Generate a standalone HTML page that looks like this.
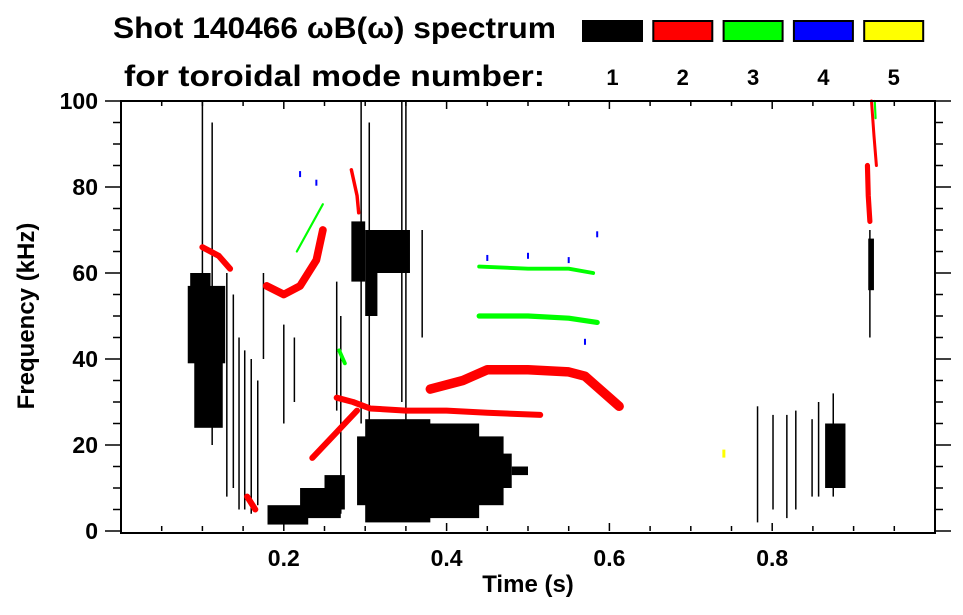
<!DOCTYPE html>
<html><head><meta charset="utf-8">
<style>
html,body{margin:0;padding:0;background:#fff;}
svg{display:block;font-family:"Liberation Sans",sans-serif;font-weight:bold;}
</style></head>
<body>
<svg id="chart" width="963" height="615" viewBox="0 0 963 615">
<g id="marks"></g>
<g id="axes"></g>
<g id="legend"></g>
<text x="113" y="38" font-size="30" textLength="443" lengthAdjust="spacingAndGlyphs">Shot 140466 ωB(ω) spectrum</text>
<text x="124" y="86" font-size="30" textLength="421" lengthAdjust="spacingAndGlyphs">for toroidal mode number:</text>
<text x="528" y="592" font-size="24" text-anchor="middle">Time (s)</text>
<text transform="translate(34,316) rotate(-90)" font-size="24" text-anchor="middle">Frequency (kHz)</text>
</svg>
<script>
// ---- data (time s, frequency kHz) ----
const modeColors = ["#000000","#ff0000","#00ff00","#0000ff","#ffff00"];
const modeLabels = ["1","2","3","4","5"];
const xTicks = [0.2,0.4,0.6,0.8];
const yTicks = [0,20,40,60,80,100];
// black (n=1) regions: [t0, t1, fLow, fHigh]
const blackBlobs = [
 [0.082,0.128,39,57],[0.09,0.125,24,40],[0.085,0.11,45,60],
 [0.18,0.23,1.5,6],[0.22,0.27,3,10],[0.25,0.275,5,13],
 [0.29,0.47,6,22],[0.33,0.44,3,25],[0.30,0.38,2,26],[0.44,0.48,10,18],[0.48,0.50,13,15],
 [0.283,0.30,58,72],[0.30,0.355,60,70],[0.30,0.315,50,60],
 [0.865,0.89,10,25],[0.918,0.925,56,68]
];
// black streaks: [t, fLow, fHigh]
const blackStreaks = [
 [0.10,30,100],[0.112,20,95],[0.13,8,60],[0.138,10,55],[0.145,5,45],[0.152,5,42],[0.16,4,40],[0.168,6,35],
 [0.175,40,60],[0.2,25,48],[0.213,30,45],[0.265,28,58],[0.27,4,50],
 [0.295,25,100],[0.305,10,95],[0.345,30,100],[0.35,10,100],[0.37,45,70],
 [0.782,2,29],[0.801,5,27],[0.818,3,27],[0.829,5,28],[0.849,8,26],[0.857,8,30],[0.875,8,32],[0.92,45,70]
];
// red (n=2) curves: list of [t,f] points
const redCurves = [
 [[0.179,57],[0.2,55],[0.22,57],[0.24,63],[0.248,70]],
 [[0.235,17],[0.26,22],[0.28,26],[0.29,28]],
 [[0.265,31],[0.285,30],[0.306,28.5],[0.35,28],[0.4,28],[0.45,27.5],[0.515,27]],
 [[0.38,33],[0.42,35],[0.45,37.5],[0.5,37.5],[0.55,37],[0.57,36],[0.6,31],[0.612,29]],
 [[0.283,84],[0.29,78],[0.292,74]],
 [[0.10,66],[0.12,64],[0.134,61]],
 [[0.155,8],[0.165,5]],
 [[0.917,85],[0.918,78],[0.92,72]],
 [[0.922,100],[0.925,92],[0.928,85]]
];
const redWidths = [1.8,1.4,1.4,2.2,0.8,1.4,1.4,1.2,0.7];
const greenCurves = [
 [[0.44,61.5],[0.5,61],[0.55,61],[0.58,60]],
 [[0.44,50],[0.5,50],[0.55,49.5],[0.585,48.5]],
 [[0.268,42],[0.275,39]],
 [[0.216,65],[0.248,76]],
 [[0.926,100],[0.927,96]]
];
const greenWidths = [0.9,1.2,0.9,0.5,0.5];
const blueDots = [[0.22,83],[0.24,81],[0.45,63.5],[0.5,64],[0.55,63],[0.585,69],[0.57,44]];
const yellowDots = [[0.74,18]];

// ---- axes functions ----
const X0=121,X1=935,Y0=531,Y1=101;
const xs=t=>X0+t*(X1-X0)/1.0;
const ys=f=>Y0-f*(Y0-Y1)/100;
const NS="http://www.w3.org/2000/svg";
function mk(tag,attrs,parent){const e=document.createElementNS(NS,tag);for(const k in attrs)e.setAttribute(k,attrs[k]);parent.appendChild(e);return e;}
const marks=document.getElementById('marks'),axes=document.getElementById('axes'),legend=document.getElementById('legend');

blackBlobs.forEach(b=>{
 const r=mk('rect',{x:xs(b[0]),y:ys(b[3]),width:xs(b[1])-xs(b[0]),height:ys(b[2])-ys(b[3]),fill:"#000"},marks);
 
 
});
blackStreaks.forEach(s=>{
 const l=mk('line',{x1:xs(s[0]),x2:xs(s[0]),y1:ys(s[1]),y2:ys(s[2]),stroke:"#000","stroke-width":1.5},marks);
 
 
});
function drawCurves(curves,widths,color,name){
 curves.forEach((c,i)=>{
  const p=mk('polyline',{points:c.map(q=>xs(q[0])+","+ys(q[1])).join(" "),fill:"none",stroke:color,"stroke-width":widths[i]*4.3,"stroke-linecap":"round","stroke-linejoin":"round"},marks);
  
  
 });
}
drawCurves(redCurves,redWidths,"#ff0000","mode2-curve");
drawCurves(greenCurves,greenWidths,"#00ff00","mode3-curve");
blueDots.forEach(d=>{
 const r=mk('rect',{x:xs(d[0])-1,y:ys(d[1])-3,width:2,height:6,fill:"#0000ff"},marks);
 
 
});
yellowDots.forEach(d=>{
 const r=mk('rect',{x:xs(d[0])-1,y:ys(d[1])-4,width:3,height:8,fill:"#ffff00"},marks);
 
 
});

// frame
const fr=mk('rect',{x:X0,y:Y1,width:X1-X0,height:Y0-Y1+2,fill:"none",stroke:"#000","stroke-width":2},axes);


for(let f=0;f<=100;f+=5){
 const major=f%20===0,len=major?16:8;
 mk('line',{x1:X0-len,x2:X0,y1:ys(f),y2:ys(f),stroke:"#000","stroke-width":1.5},axes);
 mk('line',{x1:X1,x2:X1+len,y1:ys(f),y2:ys(f),stroke:"#000","stroke-width":1.5},axes);
}
for(let i=1;i<20;i++){
 const t=i*0.05,major=i%4===0,len=major?8:5;
 mk('line',{x1:xs(t),x2:xs(t),y1:Y0,y2:Y0-len,stroke:"#000","stroke-width":1.5},axes);
 mk('line',{x1:xs(t),x2:xs(t),y1:Y1,y2:Y1+len,stroke:"#000","stroke-width":1.5},axes);
}
yTicks.forEach(v=>{
 const t=mk('text',{x:98,y:ys(v)+8,"font-size":23,"text-anchor":"end"},axes);
 t.textContent=v;
 
 
});
xTicks.forEach(v=>{
 const t=mk('text',{x:xs(v),y:566,"font-size":23,"text-anchor":"middle"},axes);
 t.textContent=v.toFixed(1);
 
 
});
modeColors.forEach((c,i)=>{
 const x=583+i*70.3;
 const r=mk('rect',{x:x,y:21,width:59,height:20,fill:c,stroke:"#000","stroke-width":2},legend);
 
 
 const t=mk('text',{x:x+29.5,y:85,"font-size":22,"text-anchor":"middle"},legend);
 t.textContent=modeLabels[i];
 
 
});
</script>
</body></html>
